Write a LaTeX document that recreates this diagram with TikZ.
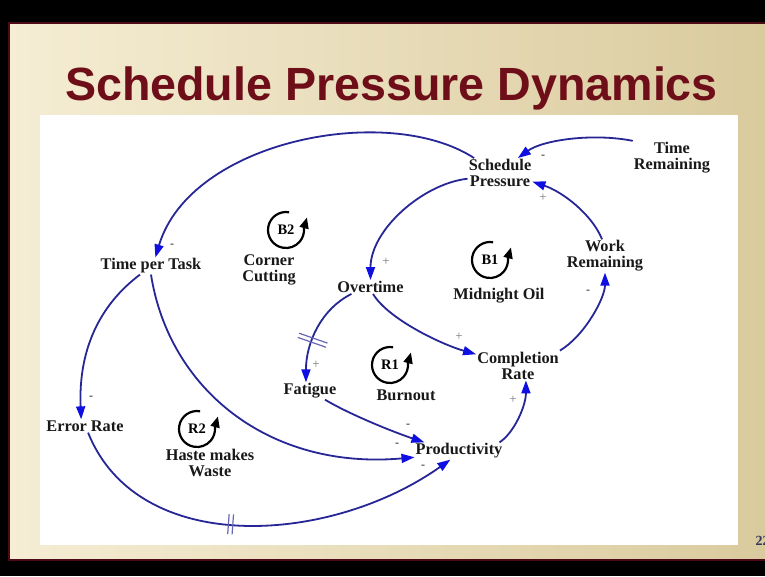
\documentclass[tikz,border=0pt]{standalone}
\usepackage{fontspec}
\setmainfont{Liberation Serif}
\newfontfamily\titlefont{Liberation Sans}
\usetikzlibrary{arrows.meta}

\definecolor{slidebeige}{RGB}{245,237,212}
\definecolor{slidetan}{RGB}{218,203,158}
\definecolor{framered}{RGB}{75,10,22}
\definecolor{titlered}{RGB}{110,14,24}
\definecolor{linkblue}{RGB}{38,38,150}
\definecolor{headblue}{RGB}{15,15,225}
\definecolor{signgray}{RGB}{120,120,130}
\definecolor{pagenum}{RGB}{50,50,90}

\begin{document}
\begin{tikzpicture}[x=1pt,y=1pt,
    varnode/.style={font=\fontsize{16.3}{16}\selectfont\bfseries, text=black!90, align=center, inner sep=1pt},
    link/.style={draw=linkblue, line width=1.8pt, -{Triangle[length=13pt,width=9pt,color=headblue]}},
    plus/.style={font=\fontsize{13}{13}\selectfont, text=signgray, inner sep=0pt},
    minus/.style={font=\fontsize{12}{12}\selectfont\bfseries, text=black!75, inner sep=0pt},
    delaybar/.style={draw=linkblue!70, line width=1.2pt},
    pics/delay/.style={code={\draw[delaybar,-] (-2.2,-#1) -- (-2.2,#1) (2.2,-#1) -- (2.2,#1);}},
    pics/loopsym/.style={code={
        \draw[line width=2.2pt, -{Triangle[length=11pt,width=9pt]}] (80:18) arc[start angle=80,end angle=365,radius=18] -- ++(3,11);
        \node[font=\fontsize{14.5}{14.5}\selectfont\bfseries] (-lbl) {#1};}}
    ]
    \useasboundingbox (0,0) rectangle (765,-576);

    % slide background
    \fill[black] (0,0) rectangle (765,-576);
    \shade[left color=slidebeige, right color=slidetan] (9,-23) rectangle (765,-560);
    \draw[framered, line width=1.5pt] (765,-23) -- (9,-23) -- (9,-560) -- (765,-560);
    \fill[white] (40,-115) rectangle (738,-545);

    % title and page number
    \node[font=\titlefont\fontsize{46.6}{50}\selectfont\bfseries, text=titlered, anchor=base] (title) at (391.5,-100) {Schedule Pressure Dynamics};
    \node[font=\fontsize{14}{14}\selectfont\bfseries, text=pagenum, anchor=base west] (pnum) at (752,-545) {22};

    % variables
    \node[varnode] (sp) at (500,-173) {Schedule\\Pressure};
    \node[varnode] (tr) at (672,-157.5) {Time\\Remaining};
    \node[varnode] (wr) at (605,-256) {Work\\Remaining};
    \node[varnode] (ot) at (370.5,-287) {Overtime};
    \node[varnode] (cr) at (518,-365.5) {Completion\\Rate};
    \node[varnode] (fa) at (310,-391) {Fatigue};
    \node[varnode] (pr) at (459,-451) {Productivity};
    \node[varnode] (tpt) at (151,-266) {Time per Task};
    \node[varnode] (er) at (85,-426) {Error Rate};

    % loop markers
    \pic (b2) at (286,-230) {loopsym=B2};
    \pic (b1) at (490,-260) {loopsym=B1};
    \pic (r1) at (390,-365) {loopsym=R1};
    \pic (r2) at (197,-429) {loopsym=R2};
    \node[varnode] (b2name) at (269,-270) {Corner\\Cutting};
    \node[varnode] (b1name) at (499,-296) {Midnight Oil};
    \node[varnode] (r1name) at (406,-395) {Burnout};
    \node[varnode] (r2name) at (210,-463) {Haste makes\\Waste};

    % causal links
    \draw[link] (tr.north west) .. controls +(-40,8) and +(25,18) .. (sp.40);
    \draw[link] (sp.150) .. controls +(-86,56) and +(35,117) .. (tpt.63);
    \draw[link] (sp.190) .. controls +(-45,-5) and +(0,50) .. (ot.north);
    \draw[link] (wr.100) .. controls +(-10,25) and +(30,-10) .. (sp.-15);
    \draw[link] (cr.north east) .. controls +(25,15) and +(0,-25) .. (wr.south);
    \draw[link] (ot.-70) .. controls +(15,-25) and +(-35,10) .. (cr.165);
    \draw[link] (ot.200) .. controls +(-30,-15) and +(0,40) .. (fa.115) pic[pos=0.62, sloped] {delay=15};
    \draw[link] (fa.-30) .. controls +(25,-15) and +(-30,10) .. (pr.166);
    \draw[link] (tpt.south) .. controls +(18,-115) and +(-145,-13) .. (pr.188);
    \draw[link] (tpt.-142) .. controls +(-40,-30) and +(-3,70) .. (er.120);
    \draw[link] (er.-65) .. controls +(50,-125) and +(-120,-85) .. (pr.-135) pic[pos=0.47, sloped] {delay=10};
    \draw[link] (pr.12) .. controls +(15,10) and +(0,-25) .. (cr.-62);

    % polarities
    \foreach \x/\y [count=\i] in {543/157, 172/246, 588/292, 408/426, 397/445, 91/398, 423/467}
        \node[minus] (minus\i) at (\x,-\y) {-};
    \foreach \x/\y [count=\i] in {386/262, 543/198, 459/337, 316/365, 513/400}
        \node[plus] (plus\i) at (\x,-\y) {+};

\end{tikzpicture}
\end{document}
